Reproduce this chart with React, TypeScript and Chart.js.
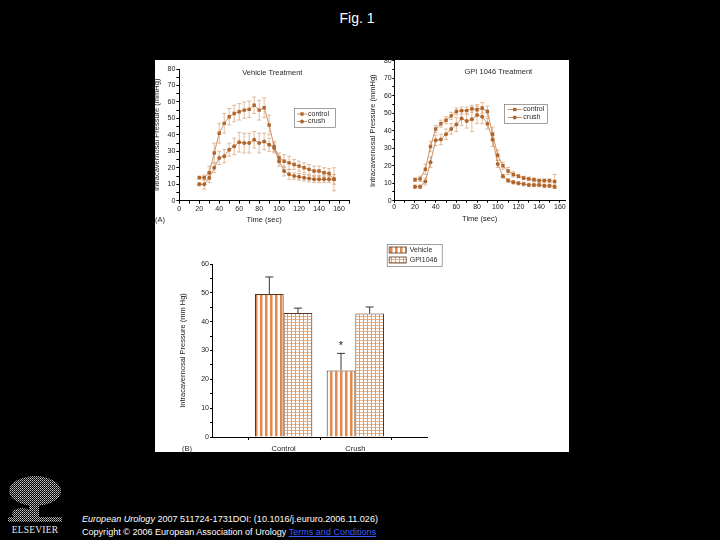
import React, { useEffect, useRef } from 'react';
import { Chart, registerables } from 'chart.js';

Chart.register(...registerables);

const FONT = '"Liberation Sans", Arial, Helvetica, sans-serif';

// ---------- Panel A data ----------
const timeSec = [20, 25, 30, 35, 40, 45, 50, 55, 60, 65, 70, 75, 80, 85, 90, 95, 100, 105, 110, 115, 120, 125, 130, 135, 140, 145, 150, 155];

const vehControl = [14, 14, 17, 29, 41, 47, 51, 53, 54, 55, 55.5, 58, 55, 56.5, 46, 33, 26, 24, 23, 22, 21, 20, 19, 18, 18, 17, 16.5, 13];
const vehControlErr = [1, 1.5, 4, 6, 6, 6, 5, 5, 5, 5, 5, 5, 6, 6, 6, 3, 3, 4, 4, 3, 3, 3, 3, 3, 3, 3, 3, 7];
const vehCrush = [10, 10, 14, 20, 26, 27, 31, 33, 35.5, 35, 35, 37, 35, 36, 34, 32, 24, 18, 16, 15, 14.5, 14, 13.5, 13, 13, 13, 13, 13];
const vehCrushErr = [1, 3, 3, 3, 4, 4, 4, 5, 6, 6, 6, 5, 6, 5, 4, 3, 3, 3, 3, 2, 2, 2, 2, 2, 2, 2, 2, 3];

const gpiControl = [12, 12.5, 18, 31, 41, 44, 46, 48.5, 51, 51.5, 51.5, 52.5, 52, 53, 51, 38, 26, 20, 17, 15, 14, 13, 12.5, 12, 11.5, 11.5, 11.5, 11];
const gpiControlErr = [1, 1.5, 3, 3, 2, 2, 2, 2, 2, 2, 2, 2, 3, 3, 3, 4, 3, 2, 2, 1.5, 1, 1, 1, 1, 1, 1, 1, 4];
const gpiCrush = [8, 8, 11, 22, 34.5, 35, 38, 41, 43.5, 47, 45.5, 46.5, 49, 48, 44, 35, 21, 14, 11.5, 10.5, 10, 9.5, 9, 9, 9, 8.5, 8.5, 8];
const gpiCrushErr = [1, 1, 2, 3, 3, 3, 3, 3, 4, 4, 4, 7, 5, 4, 3, 4, 2, 1, 1, 1, 1, 1, 1, 1, 1, 1, 1, 1];

const seriesLabels = ['control', 'crush'];

// ---------- Panel B data ----------
const barCategories = ['', 'Control', 'Crush', ''];
const barSeriesLabels = ['Vehicle', 'GPI1046'];
const barVehicle = [null, 49.6, 23.1, null];
const barVehicleErr = [null, 5.9, 5.9, null];
const barGpi = [null, 43, 42.8, null];
const barGpiErr = [null, 1.7, 2.3, null];
const barVehicleMarks = [null, null, '*', null];

const MARK = '#b0662c';
const LINE = '#c07a44';
const ERR = '#d6a175';

function drawErrors(chart: any, onTop: boolean) {
  const { ctx } = chart;
  const yScale = chart.scales.y;
  chart.data.datasets.forEach((ds: any, di: number) => {
    if (!ds.errors || !!ds.errorsOnTop !== onTop) return;
    const meta = chart.getDatasetMeta(di);
    ctx.save();
    ctx.strokeStyle = ds.errorColor;
    ctx.lineWidth = ds.errorLineWidth;
    meta.data.forEach((el: any, i: number) => {
      const e = ds.errors[i];
      const raw = ds.data[i];
      const v = raw == null ? null : typeof raw === 'number' ? raw : raw.y;
      if (e == null || v == null) return;
      const x = el.x;
      const yTop = yScale.getPixelForValue(v + e);
      const yBot = ds.errorUpOnly ? yScale.getPixelForValue(v) : yScale.getPixelForValue(v - e);
      const c = ds.errorCap / 2;
      ctx.beginPath();
      ctx.moveTo(x, yTop);
      ctx.lineTo(x, yBot);
      ctx.moveTo(x - c, yTop);
      ctx.lineTo(x + c, yTop);
      if (!ds.errorUpOnly) {
        ctx.moveTo(x - c, yBot);
        ctx.lineTo(x + c, yBot);
      }
      ctx.stroke();
    });
    ctx.restore();
  });
}

const errorBarsPlugin = {
  id: 'errorBars',
  beforeDatasetsDraw(chart: any) {
    drawErrors(chart, false);
  },
  afterDatasetsDraw(chart: any) {
    drawErrors(chart, true);
  },
};

type InnerCfg = {
  title?: string;
  titleDx?: number;
  titleDy?: number;
  letter?: string;
  letterX?: number;
  letterY?: number;
  legend?: any;
  minorXTicks?: number[];
  markGap?: number;
};

function makeInnerPlugin(cfg: InnerCfg) {
  return {
    id: 'inner',
    afterDraw(chart: any) {
      const { ctx, chartArea: ca } = chart;
      ctx.save();
      ctx.textBaseline = 'middle';
      ctx.fillStyle = '#2a2a2a';
      if (cfg.title) {
        ctx.font = `7.5px ${FONT}`;
        ctx.textAlign = 'center';
        ctx.fillText(cfg.title, ca.left + (cfg.titleDx || 0), ca.top + (cfg.titleDy || 0));
      }
      if (cfg.letter) {
        ctx.font = `7.5px ${FONT}`;
        ctx.textAlign = 'left';
        ctx.fillText(cfg.letter, cfg.letterX, cfg.letterY);
      }
      if (cfg.minorXTicks) {
        const xs = chart.scales.x;
        ctx.strokeStyle = '#000';
        ctx.lineWidth = 1;
        cfg.minorXTicks.forEach((v) => {
          const px = Math.round(xs.getPixelForValue(v)) + 0.5;
          ctx.beginPath();
          ctx.moveTo(px, ca.bottom);
          ctx.lineTo(px, ca.bottom + 3);
          ctx.stroke();
        });
      }
      if (cfg.legend) {
        const L = cfg.legend;
        const bx = ca.left + L.dx;
        const by = ca.top + L.dy;
        ctx.strokeStyle = '#777';
        ctx.lineWidth = 0.7;
        ctx.strokeRect(bx + 0.5, by + 0.5, L.w, L.h);
        chart.data.datasets.forEach((ds: any, i: number) => {
          const ry = by + L.rows[i];
          if (L.kind === 'line') {
            ctx.strokeStyle = ds.borderColor;
            ctx.lineWidth = 0.8;
            ctx.beginPath();
            ctx.moveTo(bx + L.x0, ry);
            ctx.lineTo(bx + L.x1, ry);
            ctx.stroke();
            ctx.fillStyle = ds.pointBackgroundColor;
            const mx = bx + (L.x0 + L.x1) / 2;
            if (ds.pointStyle === 'rect') {
              ctx.fillRect(mx - 1.7, ry - 1.7, 3.4, 3.4);
            } else {
              ctx.beginPath();
              ctx.arc(mx, ry, 2, 0, Math.PI * 2);
              ctx.fill();
            }
          } else {
            ctx.fillStyle = ds.backgroundColor;
            ctx.fillRect(bx + L.x0, ry - L.swH / 2, L.swW, L.swH);
            ctx.strokeStyle = ds.borderColor;
            ctx.lineWidth = 0.8;
            ctx.strokeRect(bx + L.x0, ry - L.swH / 2, L.swW, L.swH);
          }
          ctx.fillStyle = '#2a2a2a';
          ctx.font = `7px ${FONT}`;
          ctx.textAlign = 'left';
          ctx.fillText(ds.label, bx + L.tx, ry);
        });
      }
      chart.data.datasets.forEach((ds: any, di: number) => {
        if (!ds.marks) return;
        const meta = chart.getDatasetMeta(di);
        meta.data.forEach((el: any, i: number) => {
          const m = ds.marks[i];
          if (!m) return;
          const v = ds.data[i] + ((ds.errors && ds.errors[i]) || 0);
          const y = chart.scales.y.getPixelForValue(v) - (cfg.markGap || 8);
          ctx.fillStyle = '#222';
          ctx.font = `11px ${FONT}`;
          ctx.textAlign = 'center';
          ctx.fillText(m, el.x, y + 2);
        });
      });
      ctx.restore();
    },
  };
}

function lineDatasets(ctrl: number[], ctrlErr: number[], crush: number[], crushErr: number[]) {
  return [
    {
      label: seriesLabels[0],
      data: timeSec.map((t, i) => ({ x: t, y: ctrl[i] })),
      borderColor: LINE,
      borderWidth: 0.8,
      pointStyle: 'rect',
      pointRadius: 2.4,
      pointBackgroundColor: MARK,
      pointBorderColor: MARK,
      pointBorderWidth: 0,
      errors: ctrlErr,
      errorColor: ERR,
      errorLineWidth: 0.7,
      errorCap: 4,
    },
    {
      label: seriesLabels[1],
      data: timeSec.map((t, i) => ({ x: t, y: crush[i] })),
      borderColor: LINE,
      borderWidth: 0.8,
      pointStyle: 'circle',
      pointRadius: 2,
      pointBackgroundColor: MARK,
      pointBorderColor: MARK,
      pointBorderWidth: 0,
      errors: crushErr,
      errorColor: ERR,
      errorLineWidth: 0.7,
      errorCap: 4,
    },
  ];
}

function lineOptions(p: any) {
  return {
    responsive: false,
    animation: false,
    events: [],
    layout: { padding: { left: 0, top: p.padTop, right: p.padRight, bottom: 0 } },
    plugins: { legend: { display: false }, tooltip: { enabled: false }, title: { display: false } },
    scales: {
      x: {
        type: 'linear',
        min: 0,
        max: p.xMax,
        afterFit: (s: any) => {
          s.height = p.xAxisH;
        },
        ticks: {
          stepSize: 10,
          includeBounds: false,
          autoSkip: false,
          maxRotation: 0,
          padding: p.xTickPad,
          color: '#222',
          font: { family: FONT, size: 7 },
          callback: (v: any) => (Number(v) % 20 === 0 ? String(v) : ''),
        },
        grid: { display: true, drawOnChartArea: false, drawTicks: true, tickLength: p.xTickLen, color: '#000' },
        border: { display: true, color: '#000', width: 1 },
        title: {
          display: true,
          text: 'Time (sec)',
          color: '#222',
          font: { family: FONT, size: 7.5 },
          padding: { top: 0, bottom: p.xTitlePad },
        },
      },
      y: {
        type: 'linear',
        min: 0,
        max: 80,
        afterFit: (s: any) => {
          s.width = p.yAxisW;
        },
        ticks: {
          stepSize: 5,
          includeBounds: false,
          autoSkip: false,
          padding: p.yTickPad,
          color: '#222',
          font: { family: FONT, size: 7 },
          callback: (v: any) => (Number(v) % 10 === 0 ? String(v) : ''),
        },
        grid: { display: true, drawOnChartArea: false, drawTicks: true, tickLength: p.yTickLen, color: '#000' },
        border: { display: true, color: '#000', width: 1 },
        title: {
          display: true,
          text: 'Intracavernosal Pressure (mmHg)',
          color: '#222',
          font: { family: FONT, size: 7.5 },
          padding: { top: p.yTitlePad, bottom: 0 },
        },
      },
    },
  };
}

function stripePattern(ctx: CanvasRenderingContext2D): CanvasPattern {
  const c = document.createElement('canvas');
  c.width = 5;
  c.height = 5;
  const g = c.getContext('2d')!;
  g.fillStyle = '#ffffff';
  g.fillRect(0, 0, 5, 5);
  g.fillStyle = '#e08a52';
  g.fillRect(0, 0, 2, 5);
  g.fillStyle = '#f2c29e';
  g.fillRect(2, 0, 1, 5);
  return ctx.createPattern(c, 'repeat')!;
}

function gridPattern(ctx: CanvasRenderingContext2D): CanvasPattern {
  const c = document.createElement('canvas');
  c.width = 4;
  c.height = 3;
  const g = c.getContext('2d')!;
  g.fillStyle = '#ffffff';
  g.fillRect(0, 0, 4, 3);
  g.fillStyle = '#eab48a';
  g.fillRect(0, 0, 4, 1);
  g.fillStyle = '#e39a66';
  g.fillRect(0, 0, 1, 3);
  return ctx.createPattern(c, 'repeat')!;
}

function VehicleChart() {
  const ref = useRef<HTMLCanvasElement>(null);
  useEffect(() => {
    const chart = new Chart(ref.current!, {
      type: 'line',
      data: { datasets: lineDatasets(vehControl, vehControlErr, vehCrush, vehCrushErr) as any },
      options: lineOptions({
        padTop: 14, padRight: 16, xMax: 170, xAxisH: 29.3, xTickPad: 1, xTickLen: 3, xTitlePad: 5.5,
        yAxisW: 29.3, yTickPad: 1, yTickLen: 3, yTitlePad: 2.5,
      }) as any,
      plugins: [
        errorBarsPlugin,
        makeInnerPlugin({
          title: 'Vehicle Treatment', titleDx: 93, titleDy: 3.5,
          letter: '(A)', letterX: 5, letterY: 165,
          legend: { kind: 'line', dx: 114.7, dy: 39, w: 41, h: 19, rows: [6, 13.5], x0: 3, x1: 13, tx: 14 },
        }),
      ],
    });
    return () => chart.destroy();
  }, []);
  return <canvas ref={ref} width={215} height={175} style={{ position: 'absolute', left: -5, top: -5, width: 215, height: 175 }} />;
}

function GpiChart() {
  const ref = useRef<HTMLCanvasElement>(null);
  useEffect(() => {
    const chart = new Chart(ref.current!, {
      type: 'line',
      data: { datasets: lineDatasets(gpiControl, gpiControlErr, gpiCrush, gpiCrushErr) as any },
      options: lineOptions({
        padTop: 10.7, padRight: 4, xMax: 165, xAxisH: 29.3, xTickPad: 0, xTickLen: 2, xTitlePad: 6.5,
        yAxisW: 29.3, yTickPad: 0.6, yTickLen: 2, yTitlePad: 3.5,
      }) as any,
      plugins: [
        errorBarsPlugin,
        makeInnerPlugin({
          title: 'GPI 1046 Treatment', titleDx: 104, titleDy: 11.3,
          legend: { kind: 'line', dx: 109.7, dy: 43.3, w: 43, h: 19, rows: [5.5, 13.5], x0: 3.7, x1: 17.7, tx: 19.3 },
        }),
      ],
    });
    return () => chart.destroy();
  }, []);
  return <canvas ref={ref} width={204} height={180} style={{ position: 'absolute', left: 210, top: -10, width: 204, height: 180 }} />;
}

function BarChart() {
  const ref = useRef<HTMLCanvasElement>(null);
  useEffect(() => {
    const ctx = ref.current!.getContext('2d')!;
    const chart = new Chart(ref.current!, {
      type: 'bar',
      data: {
        labels: barCategories,
        datasets: [
          {
            label: barSeriesLabels[0],
            data: barVehicle,
            backgroundColor: stripePattern(ctx),
            borderColor: '#5b3520',
            borderWidth: 1,
            errors: barVehicleErr,
            errorsOnTop: true,
            errorUpOnly: true,
            errorColor: '#222',
            errorLineWidth: 0.9,
            errorCap: 8,
            marks: barVehicleMarks,
          },
          {
            label: barSeriesLabels[1],
            data: barGpi,
            backgroundColor: gridPattern(ctx),
            borderColor: '#5b3520',
            borderWidth: 1,
            errors: barGpiErr,
            errorsOnTop: true,
            errorUpOnly: true,
            errorColor: '#222',
            errorLineWidth: 0.9,
            errorCap: 8,
          },
        ] as any,
      },
      options: {
        responsive: false,
        animation: false,
        events: [],
        layout: { padding: { left: 0, top: 32, right: 142, bottom: 0 } },
        plugins: { legend: { display: false }, tooltip: { enabled: false } },
        datasets: { bar: { categoryPercentage: 0.8, barPercentage: 1.0 } },
        scales: {
          x: {
            type: 'category',
            offset: false,
            afterFit: (s: any) => {
              s.height = 15;
            },
            grid: { display: false, drawTicks: false },
            border: { display: true, color: '#000', width: 1 },
            ticks: { autoSkip: false, maxRotation: 0, padding: 7, color: '#222', font: { family: FONT, size: 7.5 } },
          },
          y: {
            type: 'linear',
            min: 0,
            max: 60,
            afterFit: (s: any) => {
              s.width = 57;
            },
            ticks: {
              stepSize: 5,
              includeBounds: false,
              autoSkip: false,
              padding: 1,
              color: '#222',
              font: { family: FONT, size: 7 },
              callback: (v: any) => (Number(v) % 10 === 0 ? String(v) : ''),
            },
            grid: { display: true, drawOnChartArea: false, drawTicks: true, tickLength: 2, color: '#000' },
            border: { display: true, color: '#000', width: 1 },
            title: {
              display: true,
              text: 'Intracavernosal Pressure (mm Hg)',
              color: '#222',
              font: { family: FONT, size: 7.5 },
              padding: { top: 23.5, bottom: 0 },
            },
          },
        },
      } as any,
      plugins: [
        errorBarsPlugin,
        makeInnerPlugin({
          letter: '(B)', letterX: 27, letterY: 217,
          minorXTicks: [0.5, 1.5, 2.5],
          markGap: 9,
          legend: { kind: 'bar', dx: 174.7, dy: -20, w: 55, h: 22, rows: [6, 16], x0: 2.5, swW: 17, swH: 6, tx: 23 },
        }),
      ],
    });
    return () => chart.destroy();
  }, []);
  return <canvas ref={ref} width={414} height={220} style={{ position: 'absolute', left: 0, top: 172, width: 414, height: 220 }} />;
}

function ElsevierLogo() {
  return (
    <div style={{ position: 'absolute', left: 8, top: 476, width: 54, height: 62 }}>
      <svg width={54} height={46} style={{ position: 'absolute', left: 0, top: 0 }}>
        <defs>
          <pattern id="elsDots" width="2" height="2" patternUnits="userSpaceOnUse">
            <rect width="1" height="1" fill="#c8c8c8" />
            <rect x="1" y="1" width="1" height="1" fill="#8a8a8a" />
          </pattern>
        </defs>
        <ellipse cx="27" cy="15" rx="26" ry="15" fill="url(#elsDots)" />
        <rect x="21" y="22" width="10" height="20" fill="url(#elsDots)" />
        <ellipse cx="14" cy="38" rx="10" ry="6" fill="url(#elsDots)" />
        <rect x="0" y="41" width="54" height="5" fill="url(#elsDots)" />
      </svg>
      <div
        style={{
          position: 'absolute', left: 0, top: 49, width: 54, textAlign: 'center',
          fontFamily: '"Liberation Serif", "Times New Roman", serif', fontSize: 9.5, color: '#e8e8e8', letterSpacing: 0.2,
        }}
      >
        ELSEVIER
      </div>
    </div>
  );
}

export default function App() {
  useEffect(() => {
    document.body.style.background = '#000';
  }, []);
  return (
    <div style={{ position: 'fixed', left: 0, top: 0, width: 720, height: 540, background: '#000', overflow: 'hidden' }}>
      <div
        style={{
          position: 'absolute', left: 0, top: 9, width: 714, textAlign: 'center',
          fontFamily: FONT, fontSize: 14, color: '#fff', lineHeight: '18px',
        }}
      >
        Fig. 1
      </div>
      <div style={{ position: 'absolute', left: 155, top: 60, width: 414, height: 392, background: '#fff', overflow: 'hidden' }}>
        <VehicleChart />
        <GpiChart />
        <BarChart />
      </div>
      <ElsevierLogo />
      <div style={{ position: 'absolute', left: 82, top: 513, fontFamily: FONT, fontSize: 9.05, color: '#fff', lineHeight: '12px', whiteSpace: 'nowrap' }}>
        <div>
          <i>European Urology</i> 2007 511724-1731DOI: (10.1016/j.eururo.2006.11.026)
        </div>
        <div style={{ marginTop: 1 }}>
          Copyright © 2006 European Association of Urology{' '}
          <span style={{ color: '#3b5bff', textDecoration: 'underline' }}>Terms and Conditions</span>
        </div>
      </div>
    </div>
  );
}
